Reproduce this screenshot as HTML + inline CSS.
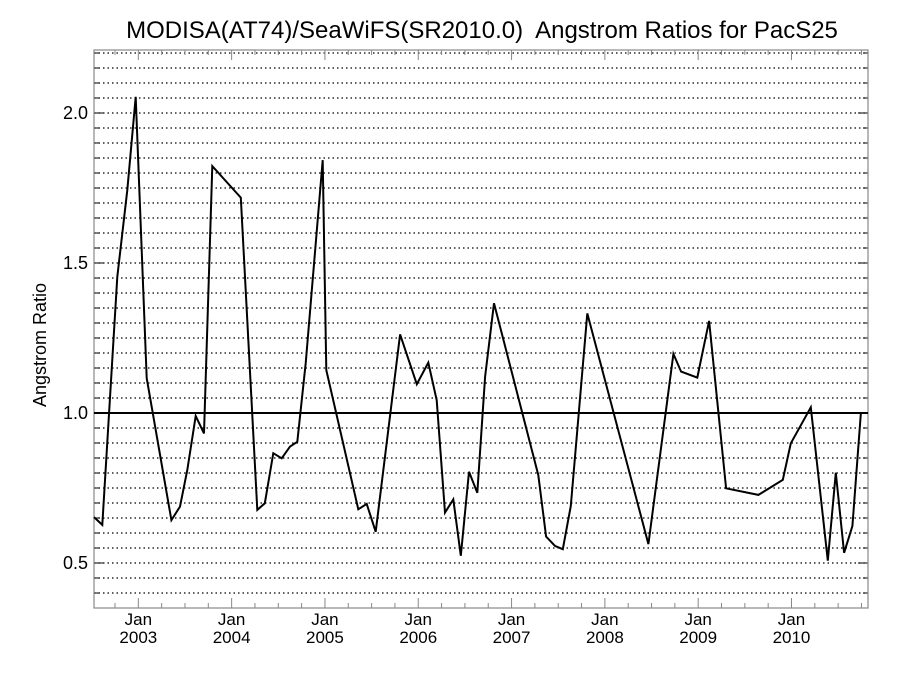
<!DOCTYPE html>
<html><head><meta charset="utf-8"><style>
body{margin:0;background:#fff;}
svg{display:block;font-family:"Liberation Sans",sans-serif;}
</style></head><body>
<svg id="chart" width="900" height="675">
<text x="482" y="38" font-size="24" text-anchor="middle" xml:space="preserve" style="white-space:pre">MODISA(AT74)/SeaWiFS(SR2010.0)  Angstrom Ratios for PacS25</text>
<text transform="translate(46,345) rotate(-90)" font-size="18" text-anchor="middle">Angstrom Ratio</text>
<g id="grid"></g>
<g id="axes"></g>
<g id="series"></g>
</svg>
<script>
const years=[2002.525,2002.614,2002.775,2002.882,2002.972,2003.090,2003.354,2003.447,2003.525,2003.615,2003.704,2003.793,2004.098,2004.275,2004.355,2004.447,2004.537,2004.626,2004.704,2004.794,2004.976,2005.015,2005.358,2005.448,2005.544,2005.805,2005.984,2006.108,2006.198,2006.287,2006.376,2006.456,2006.544,2006.633,2006.716,2006.812,2007.287,2007.370,2007.466,2007.549,2007.635,2007.812,2008.466,2008.734,2008.817,2008.991,2009.117,2009.299,2009.645,2009.907,2009.993,2010.207,2010.389,2010.475,2010.564,2010.653,2010.743];
const ratios=[0.653,0.627,1.454,1.743,2.054,1.116,0.643,0.688,0.81,0.99,0.932,1.823,1.718,0.677,0.699,0.866,0.849,0.888,0.904,1.166,1.843,1.143,0.679,0.697,0.604,1.262,1.096,1.168,1.043,0.668,0.712,0.524,0.804,0.734,1.121,1.366,0.793,0.588,0.557,0.546,0.69,1.332,0.563,1.197,1.138,1.118,1.307,0.749,0.727,0.777,0.899,1.019,0.508,0.801,0.534,0.623,0.997];
const yTickLabels=["0.5","1.0","1.5","2.0"];
const yearLabels=["2003","2004","2005","2006","2007","2008","2009","2010"];
const referenceValue=1.0;

const L=94,R=868,T=50,B=608;
const xMin=2002.525,xMax=2010.82,yMin=0.35,yMax=2.21;
const xs=v=>L+(v-xMin)/(xMax-xMin)*(R-L);
const ys=v=>B-(v-yMin)/(yMax-yMin)*(B-T);
const NS="http://www.w3.org/2000/svg";
function mk(tag,attrs,parent){const e=document.createElementNS(NS,tag);for(const k in attrs)e.setAttribute(k,attrs[k]);parent.appendChild(e);return e;}
const grid=document.getElementById('grid'),axes=document.getElementById('axes'),series=document.getElementById('series');

for(let i=0;;i++){const v=0.4+i*0.05;if(v>2.201)break;const y=ys(v);
 const g=mk('line',{x1:L,x2:R,y1:y,y2:y,stroke:'#000','stroke-width':1.3,'stroke-dasharray':'1.5 3'},grid);
 
 
 const major=Math.abs(v*2-Math.round(v*2))<1e-6;const len=major?10:5;
 mk('line',{x1:L,x2:L+len,y1:y,y2:y,stroke:'#000','stroke-width':1},axes);
 mk('line',{x1:R-len,x2:R,y1:y,y2:y,stroke:'#000','stroke-width':1},axes);
}
yTickLabels.forEach(s=>{const t=mk('text',{x:88,y:ys(parseFloat(s))+6,'font-size':18,'text-anchor':'end'},axes);t.textContent=s;
 
 });

for(let m=0;;m+=3){const yr=2002.75+m/12;if(yr>xMax)break;if(yr<xMin)continue;const x=xs(yr);
 const major=m%12===3;const len=major?10:5;
 mk('line',{x1:x,x2:x,y1:B,y2:B-len,stroke:'#888','stroke-width':1},axes);
 mk('line',{x1:x,x2:x,y1:T,y2:T+len,stroke:'#888','stroke-width':1},axes);}
yearLabels.forEach(s=>{const x=xs(parseFloat(s));
 const a=mk('text',{x:x,y:625,'font-size':17,'text-anchor':'middle'},axes);a.textContent='Jan';
 
 
 const b=mk('text',{x:x,y:643,'font-size':17,'text-anchor':'middle'},axes);b.textContent=s;
 
 });
mk('rect',{x:L,y:T,width:R-L,height:B-T,fill:'none',stroke:'#888','stroke-width':1.2},axes);

const ref=mk('line',{x1:L,x2:R,y1:ys(referenceValue),y2:ys(referenceValue),stroke:'#000','stroke-width':2},series);


const pts=years.map((y,i)=>xs(y).toFixed(1)+','+ys(ratios[i]).toFixed(1)).join(' ');
const pl=mk('polyline',{points:pts,fill:'none',stroke:'#000','stroke-width':2,'stroke-linejoin':'miter'},series);


</script>
</body></html>
